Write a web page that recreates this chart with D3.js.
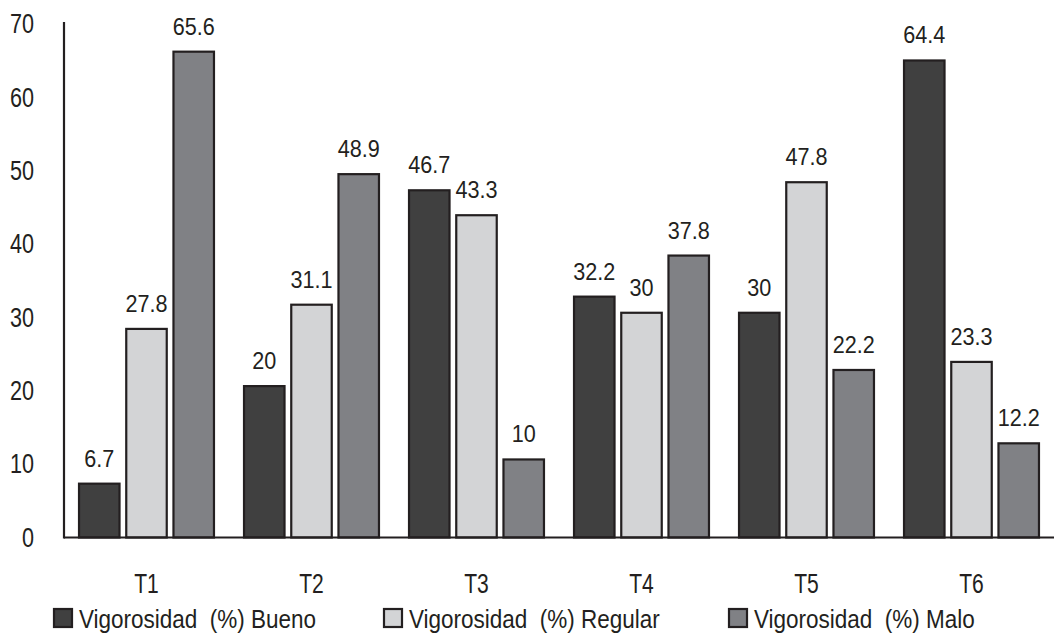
<!DOCTYPE html>
<html>
<head>
<meta charset="utf-8">
<script src="https://cdn.jsdelivr.net/npm/d3@7"></script>
<style>
  html, body { margin: 0; padding: 0; background: #fff; }
  svg { display: block; }
  text { font-family: "Liberation Sans", Arial, sans-serif; fill: #231f20; }
</style>
</head>
<body>
<svg id="chart" width="1055" height="636"></svg>
<script>
// Treatments and vigour categories
const categories = ["T1", "T2", "T3", "T4", "T5", "T6"];
const seriesNames = ["Vigorosidad  (%) Bueno", "Vigorosidad  (%) Regular", "Vigorosidad  (%) Malo"];
const bueno   = [6.7, 20, 46.7, 32.2, 30, 64.4];
const regular = [27.8, 31.1, 43.3, 30, 47.8, 23.3];
const malo    = [65.6, 48.9, 10, 37.8, 22.2, 12.2];
const yTicks  = [0, 10, 20, 30, 40, 50, 60, 70];
const colors  = ["#404040", "#d3d4d6", "#808185"];

const series = [bueno, regular, malo];
const ink = "#231f20";

const svg = d3.select("#chart");

const left = 64, right = 1054, baseY = 537.5;

const x0 = d3.scaleBand().domain(categories).range([left, right])
  .paddingInner(0.17).paddingOuter(0.085);
const x1 = d3.scaleBand().domain(d3.range(series.length)).range([0, x0.bandwidth()])
  .paddingInner(0.1);
const y = d3.scaleLinear().domain([0, 70]).range([531.8, 18.4]);

// position text with a horizontal squeeze for a condensed look
const place = (px, py, sx) => `translate(${px},${py}) scale(${sx},1)`;

// Bars
const groups = svg.append("g").selectAll("g")
  .data(categories)
  .join("g")
  .attr("transform", d => `translate(${x0(d)},0)`);

groups.selectAll("rect")
  .data((c, i) => series.map((s, k) => ({ k, v: s[i] })))
  .join("rect")
  .attr("x", d => x1(d.k) + 1)
  .attr("width", x1.bandwidth() - 2)
  .attr("y", d => y(d.v) + 1)
  .attr("height", d => baseY - y(d.v) - 1)
  .attr("fill", d => colors[d.k])
  .attr("stroke", ink)
  .attr("stroke-width", 2.2);

// Value labels
groups.selectAll("text.val")
  .data((c, i) => series.map((s, k) => ({ k, v: s[i] })))
  .join("text")
  .attr("class", "val")
  .attr("transform", d => place(x1(d.k) + x1.bandwidth() / 2, y(d.v) - 16, 0.94))
  .attr("text-anchor", "middle")
  .attr("font-size", 23)
  .text(d => d.v);

// Axes lines
svg.append("line")
  .attr("x1", left).attr("x2", left)
  .attr("y1", 22).attr("y2", baseY + 1)
  .attr("stroke", ink).attr("stroke-width", 2.2);
svg.append("line")
  .attr("x1", left).attr("x2", right)
  .attr("y1", baseY).attr("y2", baseY)
  .attr("stroke", ink).attr("stroke-width", 2.2);

// Y tick labels
svg.append("g").selectAll("text")
  .data(yTicks)
  .join("text")
  .attr("transform", d => place(34, y(d) + 15, 0.8))
  .attr("text-anchor", "end")
  .attr("font-size", 27)
  .text(d => d);

// Category labels
svg.append("g").selectAll("text")
  .data(categories)
  .join("text")
  .attr("transform", d => place(x0(d) + x0.bandwidth() / 2, 593, 0.78))
  .attr("text-anchor", "middle")
  .attr("font-size", 27)
  .text(d => d);

// Legend
const legendX = [53, 383, 728];
const legend = svg.append("g").selectAll("g")
  .data(seriesNames)
  .join("g")
  .attr("transform", (d, i) => `translate(${legendX[i]},0)`);
legend.append("rect")
  .attr("x", 1).attr("y", 609)
  .attr("width", 18).attr("height", 18)
  .attr("fill", (d, i) => colors[i])
  .attr("stroke", ink).attr("stroke-width", 2.2);
legend.append("text")
  .attr("transform", place(26, 628, 0.9))
  .attr("font-size", 25)
  .attr("xml:space", "preserve")
  .style("white-space", "pre")
  .text(d => d);
</script>
</body>
</html>
